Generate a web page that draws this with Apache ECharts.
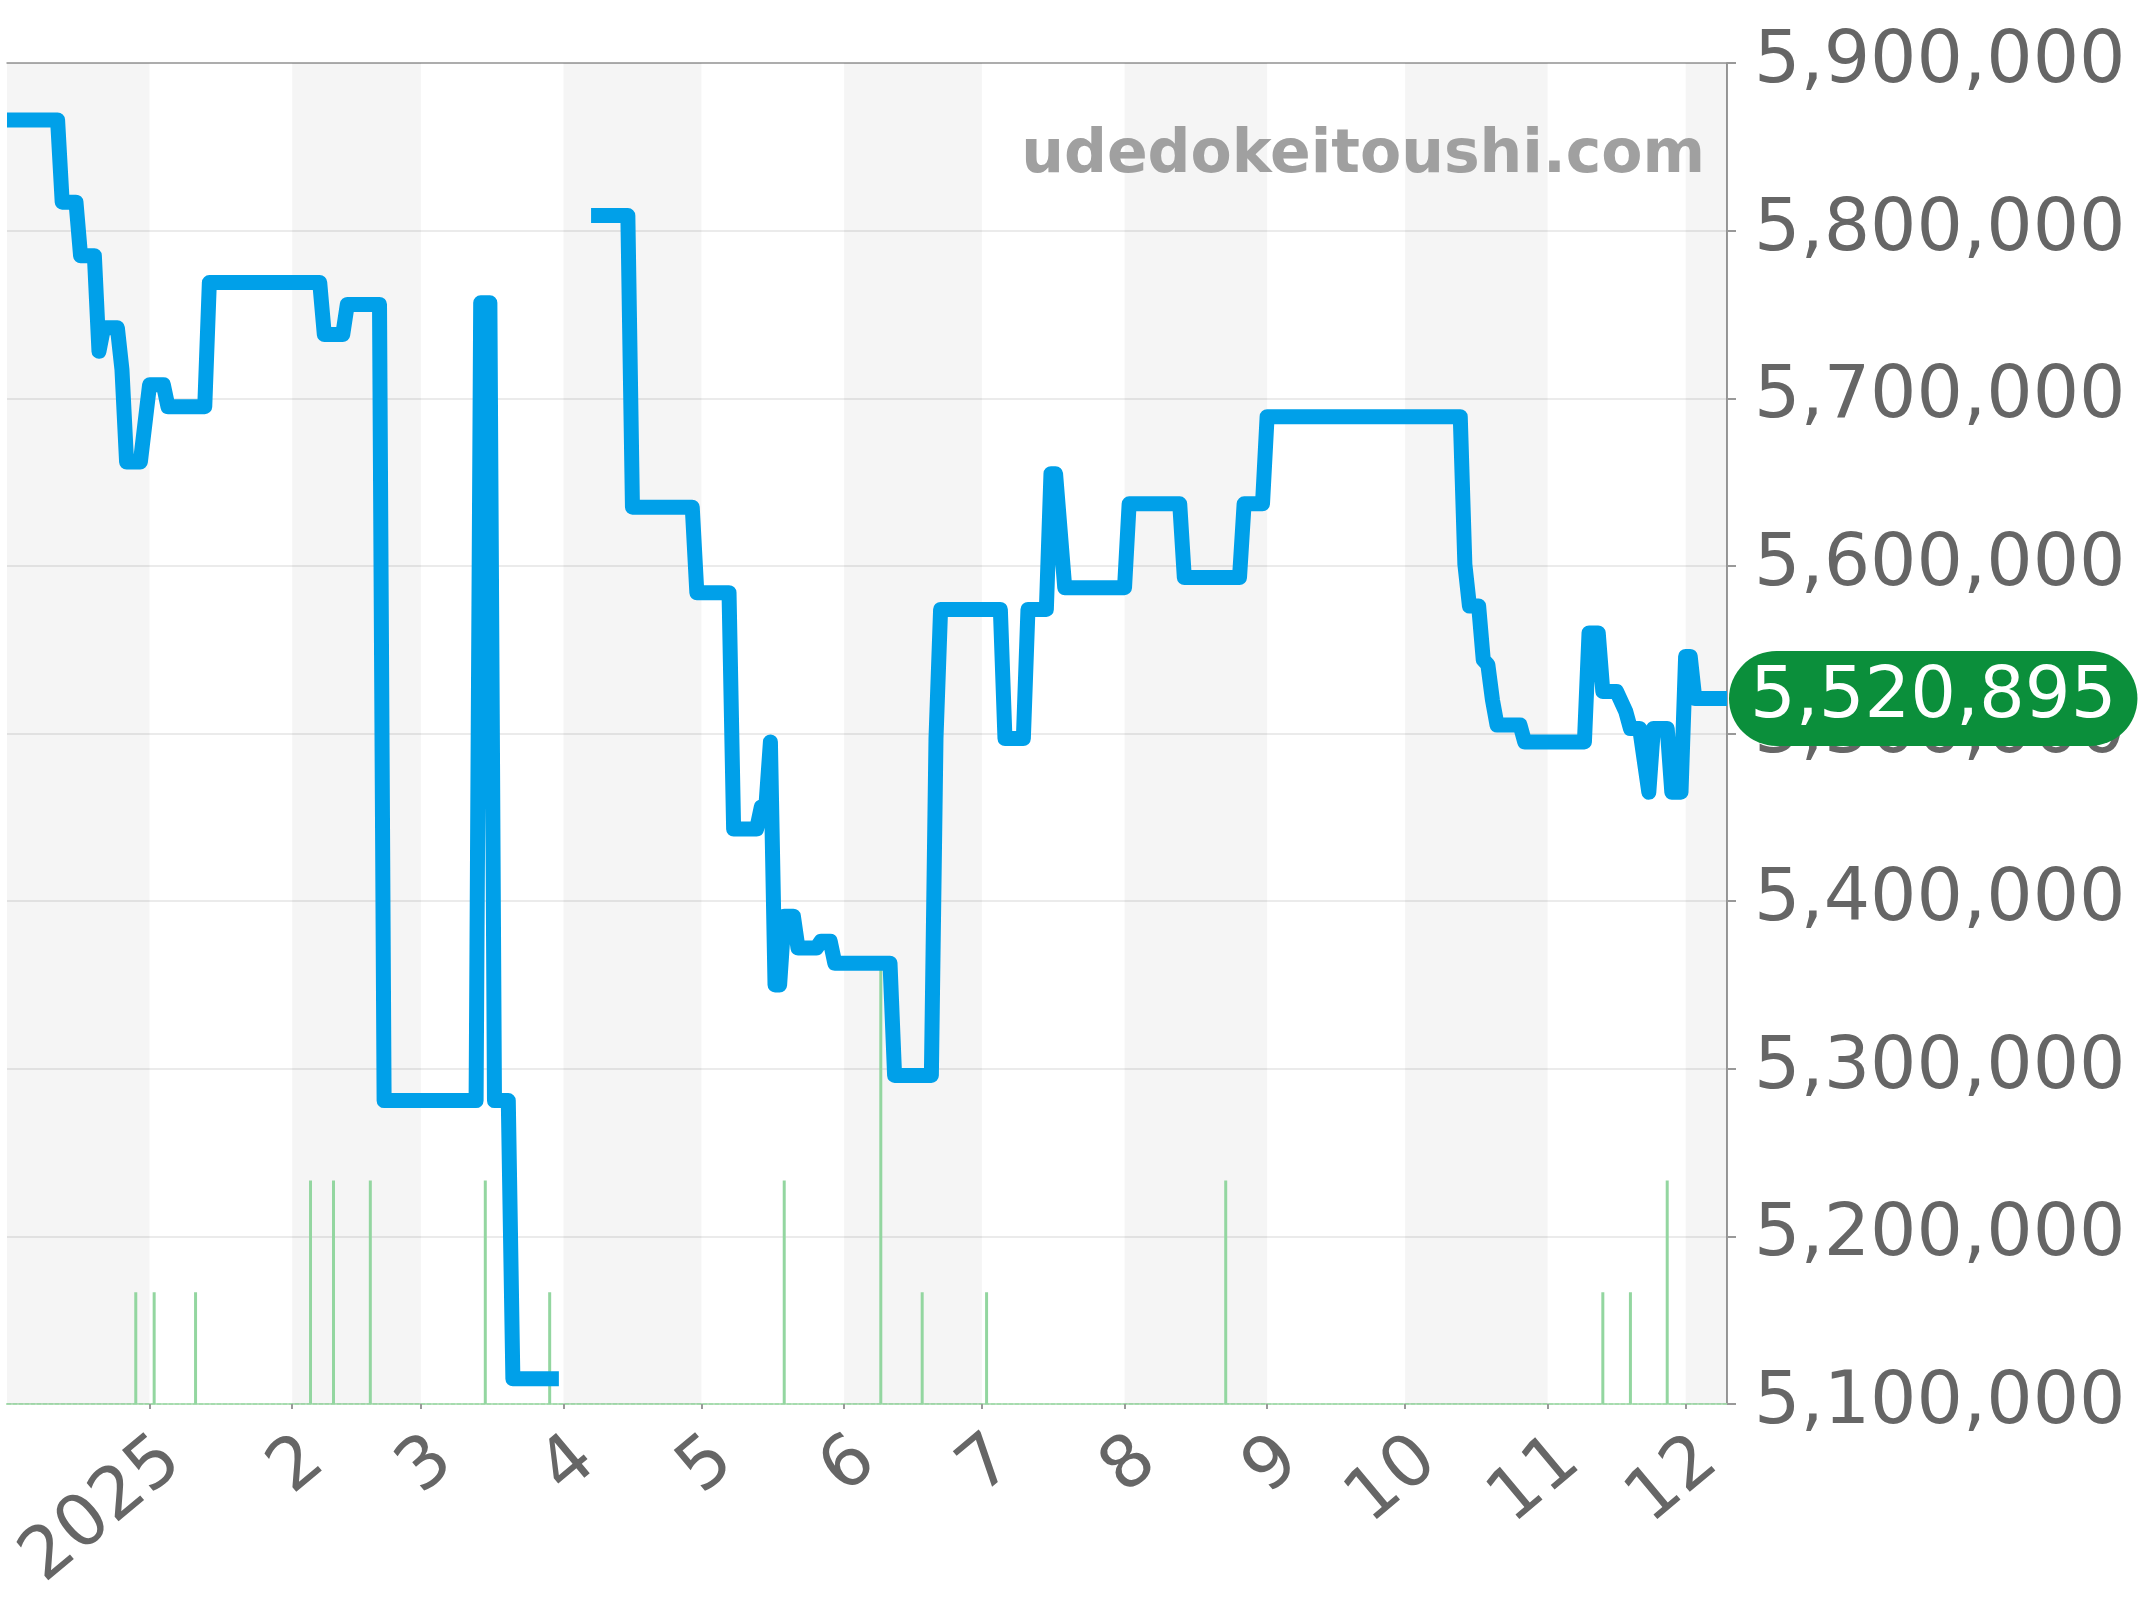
<!DOCTYPE html>
<html>
<head>
<meta charset="utf-8">
<title>udedokeitoushi price chart</title>
<script src="https://cdn.jsdelivr.net/npm/echarts@6/dist/echarts.min.js"></script>
<style>
  html, body { margin: 0; padding: 0; background: #fff; }
  #chart { width: 2144px; height: 1600px; }
</style>
</head>
<body>
<div id="chart"></div>
<script>
// price history (null = no data)
const priceDates = [
  '2024-12-01', '2024-12-12', '2024-12-13', '2024-12-16', '2024-12-17', '2024-12-20',
  '2024-12-21', '2024-12-22', '2024-12-25', '2024-12-26', '2024-12-27', '2024-12-30',
  '2025-01-01', '2025-01-04', '2025-01-05', '2025-01-13', '2025-01-14', '2025-02-07',
  '2025-02-08', '2025-02-12', '2025-02-13', '2025-02-20', '2025-02-21', '2025-03-13',
  '2025-03-14', '2025-03-16', '2025-03-17', '2025-03-20', '2025-03-21', '2025-03-31',
  '2025-04-03',
  '2025-04-07', '2025-04-15', '2025-04-16', '2025-04-29', '2025-04-30', '2025-05-07',
  '2025-05-08', '2025-05-13', '2025-05-14', '2025-05-15', '2025-05-16', '2025-05-17',
  '2025-05-18', '2025-05-19', '2025-05-21', '2025-05-22', '2025-05-26', '2025-05-27',
  '2025-05-29', '2025-05-30', '2025-06-11', '2025-06-12', '2025-06-20', '2025-06-21',
  '2025-06-22', '2025-07-05', '2025-07-06', '2025-07-10', '2025-07-11', '2025-07-15',
  '2025-07-16', '2025-07-17', '2025-07-19', '2025-08-01', '2025-08-02', '2025-08-13',
  '2025-08-14', '2025-08-26', '2025-08-27', '2025-08-31', '2025-09-01', '2025-10-13',
  '2025-10-14', '2025-10-15', '2025-10-17', '2025-10-18', '2025-10-19', '2025-10-20',
  '2025-10-21', '2025-10-26', '2025-10-27', '2025-11-09', '2025-11-10', '2025-11-12',
  '2025-11-13', '2025-11-16', '2025-11-18', '2025-11-19', '2025-11-21', '2025-11-23',
  '2025-11-24', '2025-11-27', '2025-11-28', '2025-11-30', '2025-12-01', '2025-12-02',
  '2025-12-03', '2025-12-10'
];
const priceValues = [
  5866000, 5866000, 5817000, 5817000, 5785000, 5785000,
  5728000, 5742000, 5742000, 5717000, 5662000, 5662000,
  5708000, 5708000, 5695000, 5695000, 5769000, 5769000,
  5738000, 5738000, 5756000, 5756000, 5281000, 5281000,
  5757000, 5757000, 5281000, 5281000, 5115000, 5115000,
  null,
  5809000, 5809000, 5635000, 5635000, 5584000, 5584000,
  5443000, 5443000, 5456000, 5456000, 5495000, 5350000,
  5350000, 5391000, 5391000, 5372000, 5372000, 5376000,
  5376000, 5363000, 5363000, 5296000, 5296000, 5497000,
  5574000, 5574000, 5497000, 5497000, 5574000, 5574000,
  5655000, 5655000, 5587000, 5587000, 5637000, 5637000,
  5593000, 5593000, 5637000, 5637000, 5689000, 5689000,
  5601000, 5576000, 5576000, 5544000, 5541000, 5520000,
  5505000, 5505000, 5495000, 5495000, 5560000, 5560000,
  5525000, 5525000, 5513000, 5503000, 5503000, 5465000,
  5503000, 5503000, 5465000, 5465000, 5546000, 5546000,
  5520895, 5520895
];

// trade counts
const volumeDates = [
  '2024-12-29', '2025-01-02', '2025-01-11', '2025-02-05', '2025-02-10', '2025-02-18',
  '2025-03-15', '2025-03-29', '2025-05-19', '2025-06-09', '2025-06-18', '2025-07-02',
  '2025-08-23', '2025-11-13', '2025-11-19', '2025-11-27'
];
const volumeValues = [1, 1, 1, 2, 2, 2, 2, 1, 2, 4, 1, 1, 2, 1, 1, 2];

const monthStarts = [
  '2024-12-01', '2025-01-01', '2025-02-01', '2025-03-01', '2025-04-01', '2025-05-01',
  '2025-06-01', '2025-07-01', '2025-08-01', '2025-09-01', '2025-10-01', '2025-11-01',
  '2025-12-01'
];
const xMin = '2024-12-01';
const xMax = '2025-12-10';
const yTicks = [5100000, 5200000, 5300000, 5400000, 5500000, 5600000, 5700000, 5800000, 5900000];

const toTime = (s) => new Date(s + 'T00:00:00').getTime();
const lastPrice = priceValues[priceValues.length - 1];

// every other month shaded grey, starting with Dec 2024
const shade = [];
monthStarts.forEach((m, i) => {
  if (i % 2 === 0) {
    const end = i + 1 < monthStarts.length ? monthStarts[i + 1] : xMax;
    shade.push([{ xAxis: toTime(m) }, { xAxis: toTime(end) }]);
  }
});

const FONT = '"DejaVu Sans", sans-serif';
const tickValues = monthStarts.slice(1).map(toTime);

const myChart = echarts.init(document.getElementById('chart'));

const option = {
  animation: false,
  backgroundColor: '#fff',
  grid: {
    left: 7,
    right: 417,
    top: 63,
    bottom: 196,
    outerBoundsMode: 'none',
  },
  graphic: [
    {
      type: 'text',
      x: 1705,
      y: 156,
      z: 10,
      style: {
        text: 'udedokeitoushi.com',
        fill: '#a0a0a0',
        font: 'bold 60px "DejaVu Sans", sans-serif',
        textAlign: 'right',
        textVerticalAlign: 'middle',
      },
    },
  ],
  xAxis: [
    {
      type: 'value',
      min: toTime(xMin),
      max: toTime(xMax),
      axisLine: {
        show: true,
        lineStyle: { color: '#a6dcae', width: 2, type: [4, 2] },
      },
      axisTick: {
        show: true,
        customValues: tickValues,
        length: 5,
        lineStyle: { color: '#999', width: 2 },
      },
      axisLabel: {
        customValues: tickValues,
        rotate: 40,
        margin: 20,
        verticalAlign: 'top',
        fontSize: 72,
        fontFamily: FONT,
        color: '#666',
        formatter: (value) => {
          const d = new Date(value);
          return d.getMonth() === 0 ? String(d.getFullYear()) : String(d.getMonth() + 1);
        },
      },
      splitLine: { show: false },
    },
    {
      type: 'value',
      position: 'top',
      min: toTime(xMin),
      max: toTime(xMax),
      axisLine: { show: true, lineStyle: { color: '#999', width: 1.5 } },
      axisTick: { show: false },
      axisLabel: { show: false },
      splitLine: { show: false },
    },
  ],
  yAxis: [
    {
      type: 'value',
      position: 'right',
      min: yTicks[0],
      max: yTicks[yTicks.length - 1],
      interval: 100000,
      axisLine: { show: true, lineStyle: { color: '#999', width: 2 } },
      axisTick: { show: true, length: 9, lineStyle: { color: '#999', width: 2 } },
      axisLabel: {
        margin: 27,
        fontSize: 73,
        fontFamily: FONT,
        color: '#666',
        formatter: (v) => echarts.format.addCommas(v),
      },
      splitLine: { show: true, lineStyle: { color: '#e4e4e4', width: 1.5 } },
    },
    {
      type: 'value',
      min: 0,
      max: 12,
      show: false,
      splitLine: { show: false },
    },
  ],
  series: [
    {
      name: 'shade',
      type: 'line',
      data: [],
      z: 0,
      silent: true,
      markArea: {
        silent: true,
        itemStyle: { color: 'rgba(0,0,0,0.04)' },
        data: shade,
      },
    },
    {
      name: 'volume',
      type: 'bar',
      yAxisIndex: 1,
      barWidth: 3,
      z: 1,
      itemStyle: { color: '#93d6a0' },
      data: volumeDates.map((d, i) => [toTime(d), volumeValues[i]]),
    },
    {
      name: 'price',
      type: 'line',
      z: 3,
      showSymbol: false,
      symbol: 'none',
      connectNulls: false,
      lineStyle: { color: '#00a0e9', width: 15, join: 'round', cap: 'butt' },
      data: priceDates.map((d, i) => [toTime(d), priceValues[i]]),
      markLine: {
        silent: true,
        symbol: ['none', 'none'],
        lineStyle: { color: 'rgba(0,0,0,0)', width: 0 },
        label: {
          show: true,
          position: 'end',
          distance: 2,
          formatter: () => echarts.format.addCommas(lastPrice),
          color: '#fff',
          fontSize: 72,
          fontFamily: FONT,
          lineHeight: 72,
          backgroundColor: '#0b8f3b',
          padding: [12, 21, 11, 21],
          borderRadius: 48,
        },
        data: [{ yAxis: lastPrice }],
      },
    },
  ],
};

myChart.setOption(option);
window.addEventListener('resize', () => myChart.resize());
</script>
</body>
</html>
